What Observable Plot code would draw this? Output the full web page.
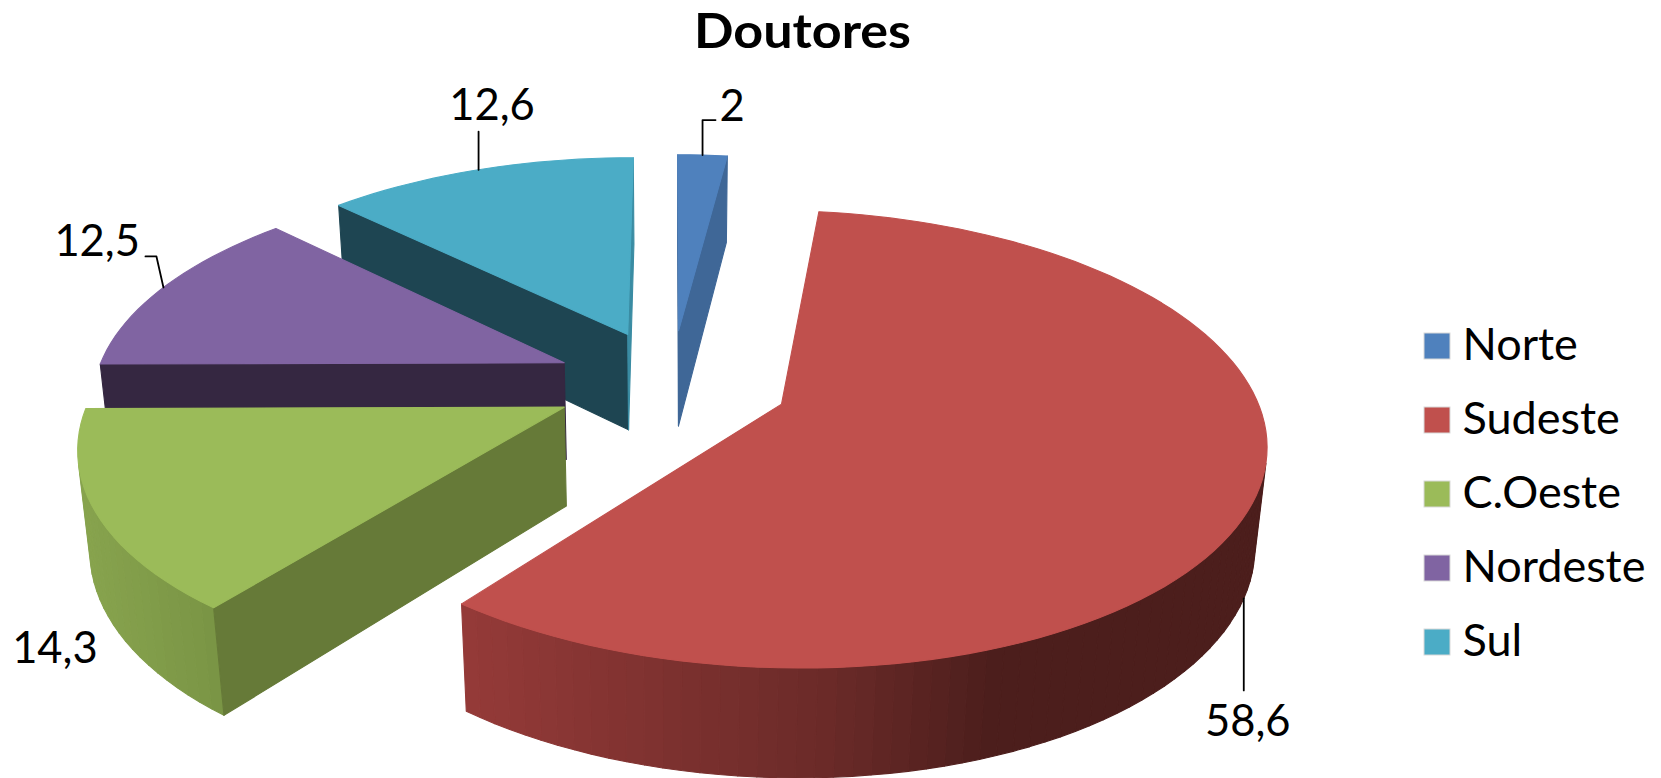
<!DOCTYPE html>
<html lang="pt">
<head>
<meta charset="utf-8">
<title>Doutores</title>
<script src="https://cdn.jsdelivr.net/npm/d3@7"></script>
<script src="https://cdn.jsdelivr.net/npm/@observablehq/plot@0.6"></script>
<style>
html,body{margin:0;padding:0;background:#fff;overflow:hidden}
svg{display:block}
</style>
</head>
<body>
<div id="chart"></div>
<script>
const title = "Doutores";
const categories = ["Norte", "Sudeste", "C.Oeste", "Nordeste", "Sul"];
const values = [2, 58.6, 14.3, 12.5, 12.6];
const valueLabels = ["2", "58,6", "14,3", "12,5", "12,6"];
const topColors = ["#4F81BD", "#C0504D", "#9BBB59", "#8064A2", "#4BACC6"];
const startFaceColors = ["#3F6797", "#8C3A38", "#667A38", "#352741", "#1E4552"];
const endFaceColors = ["#3F6797", "#8C3A38", "#667A38", "#352741", "#3A8CA3"];
const arcStopX = [[0, 1], [470, 830, 990], [80, 215], [0, 1], [0, 1]];
const arcStopColors = [["#3F6797", "#3F6797"], ["#943A38", "#6A2A28", "#4C1E1C"], ["#88A44E", "#7A9545"], ["#352741", "#352741"], ["#1E4552", "#1E4552"]];
const paintOrder = [4, 0, 3, 2, 1];

// Where each value label sits, relative to the point of its slice it refers to
const labelOffsets = [[17, -34], [4, 138], [-84, 150], [-23.5, -31], [13.5, -50]];
const labelAnchors = ["start", "middle", "start", "end", "middle"];
const leaderElbows = [[[0, -35], [13, -35]], [[0, 92]], [], [[-7, -31], [-18, -31]], [[0, -38]]];
const leaderOnBottomRim = [false, true, false, false, false];

// Camera of the 3D pie
const W = 1661, H = 778;
const view = {cx: 671, cy: 382.4, kx: 470, ky: 217, depth: 99.6, persp: 0.151, conv: 0.02, explode: 0.25};

function project(u, v, d) {
  const w = 1 + view.persp * v + view.conv * d;
  return {x: view.cx + view.kx * u / w, y: view.cy + (-view.ky * v + view.depth * d) / w};
}

const arcs = d3.pie().sort(null).value(d => d)(values);
const polys = [];
function addPoly(id, fill, pts) { pts.forEach(p => polys.push({id, fill, x: p.x, y: p.y})); }
const signedArea = pts => d3.sum(pts, (p, i) => {
  const q = pts[(i + 1) % pts.length];
  return p.x * q.y - q.x * p.y;
});

const sliceGeom = arcs.map(a => {
  const mid = (a.startAngle + a.endAngle) / 2;
  const ox = view.explode * Math.sin(mid), oy = view.explode * Math.cos(mid);
  const at = (theta, r, d) => project(ox + r * Math.sin(theta), oy + r * Math.cos(theta), d);
  return {a, mid, at};
});

paintOrder.forEach(i => {
  const {a, at} = sliceGeom[i];
  const n = Math.max(2, Math.ceil((a.endAngle - a.startAngle) / (Math.PI / 90)));
  const angles = d3.range(n + 1).map(j => a.startAngle + (a.endAngle - a.startAngle) * j / n);
  const face = t => [at(t, 0, 0), at(t, 1, 0), at(t, 1, 1), at(t, 0, 1)];
  const shade = d3.scaleLinear().domain(arcStopX[i]).range(arcStopColors[i]).clamp(true);
  d3.pairs(angles).forEach(([t0, t1], j) => {
    const q = [at(t0, 1, 0), at(t1, 1, 0), at(t1, 1, 1), at(t0, 1, 1)];
    if (signedArea(q) < 0) addPoly(`a${i}-${j}`, shade(d3.mean(q, p => p.x)), q);
  });
  if (signedArea(face(a.startAngle)) < 0) addPoly(`s${i}`, startFaceColors[i], face(a.startAngle));
  if (signedArea(face(a.endAngle)) > 0) addPoly(`e${i}`, endFaceColors[i], face(a.endAngle));
  addPoly(`t${i}`, topColors[i], [at(a.startAngle, 0, 0), ...angles.map(t => at(t, 1, 0))]);
});

const labels = [], leaders = [];
sliceGeom.forEach(({mid, at}, i) => {
  const p = at(mid, 1, leaderOnBottomRim[i] ? 1 : 0);
  labels.push({text: valueLabels[i], x: p.x + labelOffsets[i][0], y: p.y + labelOffsets[i][1], anchor: labelAnchors[i]});
  if (leaderElbows[i].length) {
    leaders.push({id: i, x: p.x, y: p.y});
    leaderElbows[i].forEach(o => leaders.push({id: i, x: p.x + o[0], y: p.y + o[1]}));
  }
});

const legendLeft = 1424, legendSwatch = 26, legendTop = 333, legendStep = 74;
const legend = categories.map((name, i) => ({name, color: topColors[i], top: legendTop + i * legendStep}));

const font = "Lato, 'Open Sans', sans-serif";
const textMark = (data, opts) => Plot.text(data, {lineAnchor: "bottom", fontFamily: font, fill: "#000", ...opts});

const chart = Plot.plot({
  width: W, height: H,
  margin: 0,
  x: {domain: [0, W], range: [0, W], axis: null},
  y: {domain: [0, H], range: [0, H], axis: null},
  color: {type: "identity"},
  style: {background: "#fff"},
  marks: [
    Plot.line(polys, {x: "x", y: "y", z: "id", fill: "fill", stroke: "fill", strokeWidth: 1.1, curve: "linear-closed"}),
    Plot.line(leaders, {x: "x", y: "y", z: "id", stroke: "#000", strokeWidth: 1.8}),
    ...["start", "middle", "end"].map(t => textMark(labels.filter(d => d.anchor === t), {x: "x", y: "y", text: "text", textAnchor: t, fontSize: 43.5})),
    Plot.rect(legend, {x1: () => legendLeft, x2: () => legendLeft + legendSwatch, y1: "top", y2: d => d.top + legendSwatch, fill: "color", stroke: "#d9d9d9", strokeWidth: 1}),
    textMark(legend, {x: () => legendLeft + 38, y: d => d.top + legendSwatch, text: "name", textAnchor: "start", fontSize: 45}),
    textMark([title], {x: () => 802, y: () => 47.5, text: d => d, textAnchor: "middle", fontSize: 48, fontWeight: "bold"})
  ]
});
d3.select(chart).selectAll("text").filter(function () { return this.textContent === title; })
  .attr("textLength", 217).attr("lengthAdjust", "spacingAndGlyphs");
document.getElementById("chart").append(chart);
</script>
</body>
</html>
